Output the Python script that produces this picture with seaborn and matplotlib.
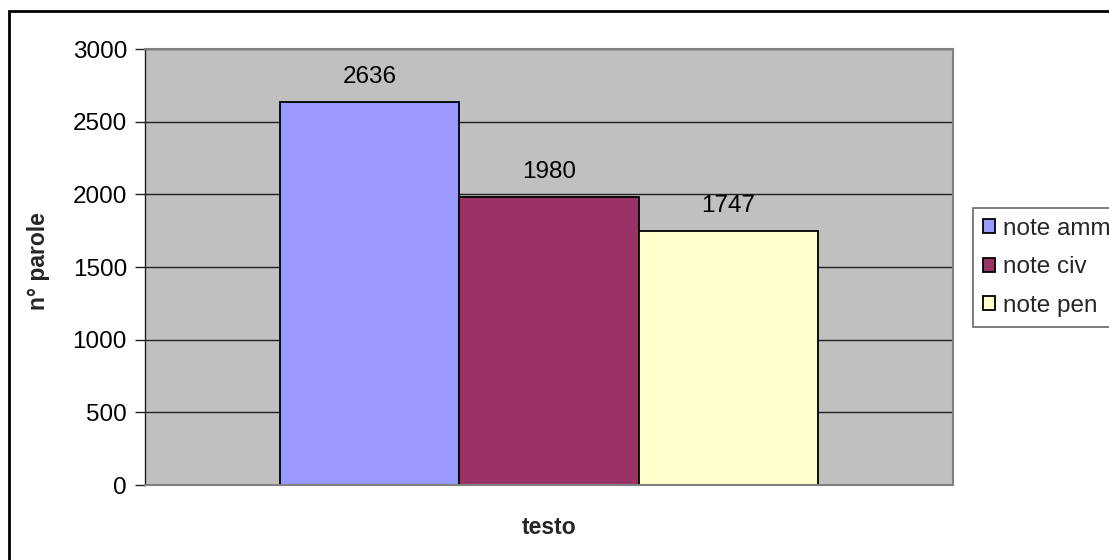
import matplotlib
matplotlib.use("Agg")
import matplotlib.pyplot as plt
from matplotlib.patches import Rectangle
import seaborn as sns
import pandas as pd

# Word counts per group of notes
series = ["note amm", "note civ", "note pen"]
values = [2636, 1980, 1747]
colors = ["#9999FF", "#993366", "#FFFFCC"]
y_ticks = [0, 500, 1000, 1500, 2000, 2500, 3000]

sns.set_theme(style="white")
plt.rcParams["font.family"] = ["Liberation Sans", "DejaVu Sans"]

df = pd.DataFrame({"testo": [""] * len(series), "serie": series, "parole": values})

W, H = 1109, 560
fig = plt.figure(figsize=(W / 100, H / 100), dpi=100)
fig.patch.set_facecolor("white")
ax = fig.add_axes([145 / W, 1 - 485 / H, (953 - 145) / W, (485 - 49) / H])

sns.barplot(data=df, x="testo", y="parole", hue="serie", palette=colors,
            hue_order=series, width=2 / 3, gap=0, edgecolor="black",
            linewidth=1.3, saturation=1, ax=ax, legend=True)

ax.set_facecolor("#C0C0C0")
ax.set_ylim(0, 3000)
ax.set_xlim(-0.5, 0.5)
ax.set_yticks(y_ticks)
ax.set_xticks([])
ax.yaxis.grid(True, color="#202020", linewidth=1.0)
ax.set_axisbelow(True)
ax.tick_params(axis="y", which="major", left=True, length=7, width=1,
               color="#202020", pad=6, labelsize=17.5, labelcolor="black")
for side in ["top", "right", "bottom"]:
    ax.spines[side].set_color("#808080")
    ax.spines[side].set_linewidth(1.5)
ax.spines["left"].set_color("#202020")
ax.spines["left"].set_linewidth(1.0)

# Value labels above each bar
for cont in ax.containers:
    for bar in cont:
        h = bar.get_height()
        ax.annotate(f"{h:.0f}", (bar.get_x() + bar.get_width() / 2, h),
                    xytext=(0, 18), textcoords="offset points",
                    ha="center", va="center", fontsize=17.5, color="black")

ax.set_xlabel("testo", fontsize=16.5, fontweight="bold", labelpad=22)
ax.set_ylabel("n° parole", fontsize=16.5, fontweight="bold")
ax.yaxis.set_label_coords(-0.118, 0.514)

leg = ax.legend(loc="upper left", bbox_to_anchor=(973 / W, 1 - 208 / H),
                bbox_transform=fig.transFigure, frameon=True, fancybox=False,
                shadow=False, fontsize=17.5, handlelength=0.5, handleheight=0.5,
                handletextpad=0.35, labelspacing=0.68, borderpad=0.4,
                borderaxespad=0)
leg.get_frame().set_edgecolor("#404040")
leg.get_frame().set_linewidth(1.2)
for patch in leg.get_patches():
    patch.set_edgecolor("black")
    patch.set_linewidth(1.3)

# Outer chart frame
fig.patches.append(Rectangle((9 / W, -0.2), 2.0, 1 - 11 / H + 0.2,
                             transform=fig.transFigure, fill=False,
                             edgecolor="black", linewidth=2, clip_on=False))

fig.savefig("out.png", dpi=100)
